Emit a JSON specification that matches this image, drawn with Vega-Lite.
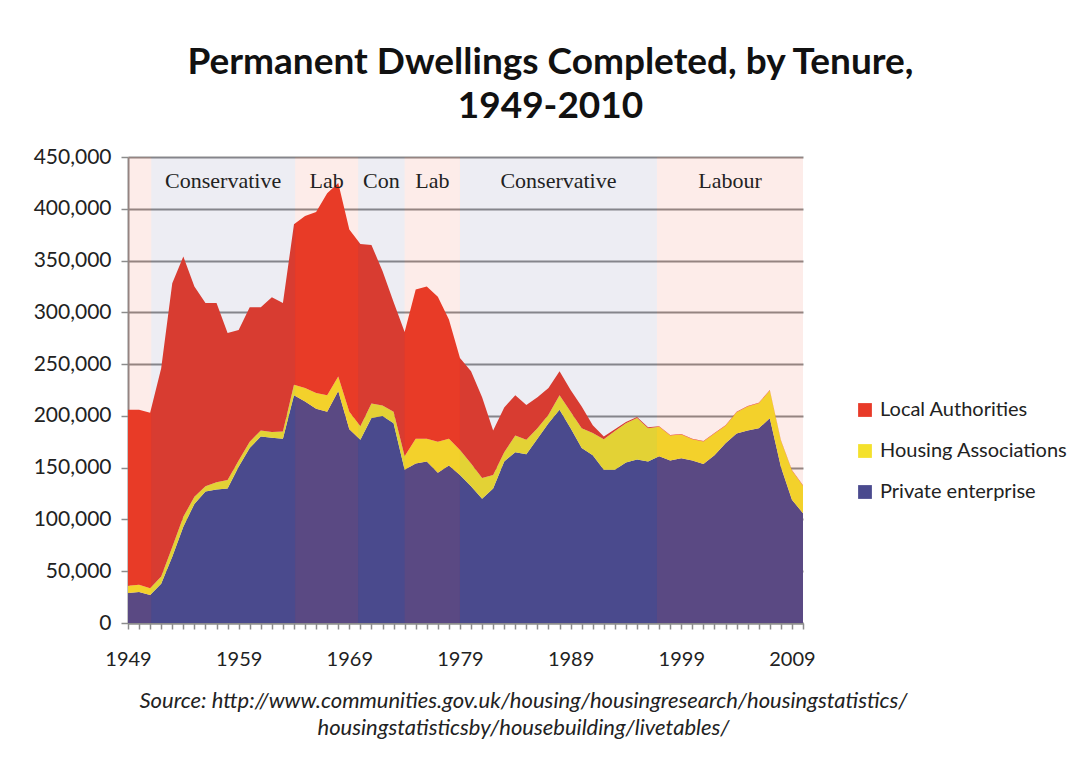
{
 "$schema": "https://vega.github.io/schema/vega-lite/v6.json",
 "width": 675,
 "height": 466,
 "autosize": {"type": "none"},
 "padding": {"left": 128, "top": 157, "right": 276, "bottom": 137},
 "background": "white",
 "title": {"text": ["Permanent Dwellings Completed, by Tenure,", "1949-2010"], "font": "Lato", "fontSize": 37, "fontWeight": "bold", "color": "#111111", "anchor": "middle", "dx": 85, "offset": 20, "lineHeight": 44},
 "datasets": {
  "housing": [
   {"year": 1949, "Private enterprise": 29000, "Housing Associations": 7000, "Local Authorities": 170000},
   {"year": 1950, "Private enterprise": 30000, "Housing Associations": 7000, "Local Authorities": 169000},
   {"year": 1951, "Private enterprise": 27000, "Housing Associations": 6500, "Local Authorities": 169500},
   {"year": 1952, "Private enterprise": 38000, "Housing Associations": 7000, "Local Authorities": 201000},
   {"year": 1953, "Private enterprise": 64000, "Housing Associations": 9500, "Local Authorities": 254500},
   {"year": 1954, "Private enterprise": 93000, "Housing Associations": 9500, "Local Authorities": 251500},
   {"year": 1955, "Private enterprise": 115000, "Housing Associations": 7000, "Local Authorities": 203000},
   {"year": 1956, "Private enterprise": 127000, "Housing Associations": 5000, "Local Authorities": 177000},
   {"year": 1957, "Private enterprise": 129000, "Housing Associations": 7000, "Local Authorities": 173000},
   {"year": 1958, "Private enterprise": 130000, "Housing Associations": 8000, "Local Authorities": 142000},
   {"year": 1959, "Private enterprise": 151000, "Housing Associations": 6000, "Local Authorities": 126000},
   {"year": 1960, "Private enterprise": 169000, "Housing Associations": 6000, "Local Authorities": 130000},
   {"year": 1961, "Private enterprise": 180000, "Housing Associations": 6000, "Local Authorities": 119000},
   {"year": 1962, "Private enterprise": 179000, "Housing Associations": 5500, "Local Authorities": 130000},
   {"year": 1963, "Private enterprise": 178000, "Housing Associations": 7000, "Local Authorities": 124000},
   {"year": 1964, "Private enterprise": 220000, "Housing Associations": 10000, "Local Authorities": 155000},
   {"year": 1965, "Private enterprise": 214000, "Housing Associations": 13000, "Local Authorities": 166000},
   {"year": 1966, "Private enterprise": 207000, "Housing Associations": 15000, "Local Authorities": 175000},
   {"year": 1967, "Private enterprise": 204000, "Housing Associations": 16000, "Local Authorities": 195000},
   {"year": 1968, "Private enterprise": 224000, "Housing Associations": 14000, "Local Authorities": 187000},
   {"year": 1969, "Private enterprise": 187000, "Housing Associations": 17000, "Local Authorities": 176000},
   {"year": 1970, "Private enterprise": 177000, "Housing Associations": 13000, "Local Authorities": 176000},
   {"year": 1971, "Private enterprise": 198000, "Housing Associations": 14000, "Local Authorities": 153000},
   {"year": 1972, "Private enterprise": 200000, "Housing Associations": 10000, "Local Authorities": 130000},
   {"year": 1973, "Private enterprise": 193000, "Housing Associations": 11000, "Local Authorities": 106000},
   {"year": 1974, "Private enterprise": 148000, "Housing Associations": 13000, "Local Authorities": 120000},
   {"year": 1975, "Private enterprise": 154000, "Housing Associations": 24000, "Local Authorities": 144000},
   {"year": 1976, "Private enterprise": 156000, "Housing Associations": 22000, "Local Authorities": 147000},
   {"year": 1977, "Private enterprise": 145000, "Housing Associations": 30000, "Local Authorities": 140000},
   {"year": 1978, "Private enterprise": 152000, "Housing Associations": 26000, "Local Authorities": 115000},
   {"year": 1979, "Private enterprise": 143000, "Housing Associations": 24000, "Local Authorities": 89000},
   {"year": 1980, "Private enterprise": 132000, "Housing Associations": 22000, "Local Authorities": 89000},
   {"year": 1981, "Private enterprise": 120000, "Housing Associations": 20000, "Local Authorities": 78000},
   {"year": 1982, "Private enterprise": 130000, "Housing Associations": 13000, "Local Authorities": 43000},
   {"year": 1983, "Private enterprise": 156000, "Housing Associations": 9000, "Local Authorities": 43000},
   {"year": 1984, "Private enterprise": 165000, "Housing Associations": 16000, "Local Authorities": 39000},
   {"year": 1985, "Private enterprise": 163000, "Housing Associations": 14000, "Local Authorities": 33500},
   {"year": 1986, "Private enterprise": 178000, "Housing Associations": 10000, "Local Authorities": 30000},
   {"year": 1987, "Private enterprise": 193000, "Housing Associations": 8000, "Local Authorities": 26000},
   {"year": 1988, "Private enterprise": 206000, "Housing Associations": 14000, "Local Authorities": 23000},
   {"year": 1989, "Private enterprise": 188000, "Housing Associations": 16000, "Local Authorities": 21000},
   {"year": 1990, "Private enterprise": 169000, "Housing Associations": 19000, "Local Authorities": 21000},
   {"year": 1991, "Private enterprise": 162000, "Housing Associations": 21500, "Local Authorities": 7500},
   {"year": 1992, "Private enterprise": 148000, "Housing Associations": 29500, "Local Authorities": 2500},
   {"year": 1993, "Private enterprise": 148000, "Housing Associations": 37500, "Local Authorities": 1500},
   {"year": 1994, "Private enterprise": 155000, "Housing Associations": 38000, "Local Authorities": 1000},
   {"year": 1995, "Private enterprise": 158000, "Housing Associations": 40000, "Local Authorities": 1000},
   {"year": 1996, "Private enterprise": 156000, "Housing Associations": 32000, "Local Authorities": 1000},
   {"year": 1997, "Private enterprise": 161000, "Housing Associations": 28500, "Local Authorities": 500},
   {"year": 1998, "Private enterprise": 157000, "Housing Associations": 24000, "Local Authorities": 500},
   {"year": 1999, "Private enterprise": 159000, "Housing Associations": 23000, "Local Authorities": 500},
   {"year": 2000, "Private enterprise": 157000, "Housing Associations": 20500, "Local Authorities": 500},
   {"year": 2001, "Private enterprise": 153500, "Housing Associations": 21800, "Local Authorities": 400},
   {"year": 2002, "Private enterprise": 162000, "Housing Associations": 21000, "Local Authorities": 500},
   {"year": 2003, "Private enterprise": 173500, "Housing Associations": 17000, "Local Authorities": 500},
   {"year": 2004, "Private enterprise": 183000, "Housing Associations": 20600, "Local Authorities": 400},
   {"year": 2005, "Private enterprise": 186000, "Housing Associations": 23000, "Local Authorities": 500},
   {"year": 2006, "Private enterprise": 188000, "Housing Associations": 24300, "Local Authorities": 400},
   {"year": 2007, "Private enterprise": 197600, "Housing Associations": 27000, "Local Authorities": 400},
   {"year": 2008, "Private enterprise": 151000, "Housing Associations": 25300, "Local Authorities": 400},
   {"year": 2009, "Private enterprise": 119000, "Housing Associations": 28300, "Local Authorities": 400},
   {"year": 2010, "Private enterprise": 106000, "Housing Associations": 26500, "Local Authorities": 500}
  ],
  "bands": [
   {"party": "Labour", "start": 1949, "end": 1951.1, "label": ""},
   {"party": "Conservative", "start": 1951.1, "end": 1964.1, "label": "Conservative"},
   {"party": "Labour", "start": 1964.1, "end": 1969.8, "label": "Lab"},
   {"party": "Conservative", "start": 1969.8, "end": 1974, "label": "Con"},
   {"party": "Labour", "start": 1974, "end": 1979, "label": "Lab"},
   {"party": "Conservative", "start": 1979, "end": 1996.8, "label": "Conservative"},
   {"party": "Labour", "start": 1996.8, "end": 2010, "label": "Labour"}
  ]
 },
 "layer": [
  {
   "data": {"name": "housing"},
   "transform": [
    {"fold": ["Private enterprise", "Housing Associations", "Local Authorities"], "as": ["tenure", "dwellings"]},
    {"calculate": "indexof(['Private enterprise','Housing Associations','Local Authorities'], datum.tenure)", "as": "stackOrder"}
   ],
   "mark": {"type": "area", "interpolate": "linear"},
   "encoding": {
    "x": {
     "field": "year", "type": "quantitative",
     "scale": {"domain": [1949, 2010], "nice": false, "zero": false},
     "axis": {
      "values": [1949,1950,1951,1952,1953,1954,1955,1956,1957,1958,1959,1960,1961,1962,1963,1964,1965,1966,1967,1968,1969,1970,1971,1972,1973,1974,1975,1976,1977,1978,1979,1980,1981,1982,1983,1984,1985,1986,1987,1988,1989,1990,1991,1992,1993,1994,1995,1996,1997,1998,1999,2000,2001,2002,2003,2004,2005,2006,2007,2008,2009,2010],
      "tickCount": 200,
      "format": "d",
      "labelExpr": "(datum.value - 1949) % 10 === 0 ? datum.label : ''",
      "labelOverlap": false,
      "labelFlush": false,
      "grid": false,
      "tickSize": 6,
      "tickColor": "#8c8c8c",
      "tickWidth": 1.5,
      "domainColor": "#8c8c8c",
      "domainWidth": 2,
      "labelFont": "Lato",
      "labelFontSize": 20,
      "labelColor": "#222222",
      "labelPadding": 20,
      "title": ["Source: http://www.communities.gov.uk/housing/housingresearch/housingstatistics/", "housingstatisticsby/housebuilding/livetables/"],
      "titleFont": "Lato",
      "titleFontSize": 22,
      "titleFontStyle": "italic",
      "titleFontWeight": "normal",
      "titleColor": "#222222",
      "titleX": 395,
      "titleY": 67,
      "titleAlign": "center",
      "titleBaseline": "top",
      "titleLineHeight": 27
     }
    },
    "y": {
     "field": "dwellings", "type": "quantitative", "stack": "zero",
     "scale": {"domain": [0, 450000], "nice": false},
     "axis": {
      "values": [0, 50000, 100000, 150000, 200000, 250000, 300000, 350000, 400000, 450000],
      "tickCount": 20,
      "format": ",d",
      "title": null,
      "labelFont": "Lato",
      "labelFontSize": 21,
      "labelColor": "#222222",
      "labelPadding": 10,
      "tickSize": 7,
      "tickColor": "#8c8c8c",
      "tickWidth": 1.5,
      "domainColor": "#8c8c8c",
      "domainWidth": 2,
      "gridColor": "#8c8c8c",
      "gridWidth": 2
     }
    },
    "color": {
     "field": "tenure", "type": "nominal",
     "scale": {"domain": ["Local Authorities", "Housing Associations", "Private enterprise"], "range": ["#E83A28", "#F4E12C", "#4A4A8E"]},
     "legend": {
      "orient": "none", "legendX": 727, "legendY": 243, "title": null,
      "symbolType": "square", "symbolSize": 190, "symbolStrokeWidth": 0, "symbolOpacity": 1,
      "labelFont": "Lato", "labelFontSize": 20, "labelColor": "#222222", "labelOffset": 5, "labelLimit": 400,
      "rowPadding": 21
     }
    },
    "order": {"field": "stackOrder"}
   }
  },
  {
   "data": {"name": "bands"},
   "mark": {"type": "rect", "opacity": 0.1},
   "encoding": {
    "x": {"field": "start", "type": "quantitative"},
    "x2": {"field": "end"},
    "color": {"condition": {"test": "datum.party === 'Labour'", "value": "#F0402A"}, "value": "#4A4A8E"}
   }
  },
  {
   "data": {"name": "bands"},
   "transform": [
    {"filter": "datum.label !== ''"},
    {"calculate": "(datum.start + datum.end) / 2", "as": "mid"}
   ],
   "mark": {"type": "text", "font": "Liberation Serif", "fontSize": 22, "color": "#222222", "baseline": "middle", "align": "center"},
   "encoding": {
    "x": {"field": "mid", "type": "quantitative"},
    "y": {"datum": 427000},
    "text": {"field": "label"}
   }
  }
 ],
 "config": {
  "view": {"stroke": null}
 }
}
